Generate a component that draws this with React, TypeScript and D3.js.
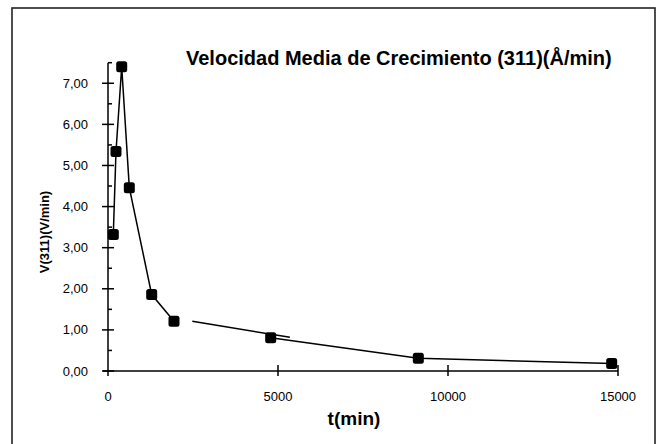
import React from "react";
import * as d3 from "d3";

const timeMin = [156, 235, 403, 627, 1285, 1941, 4785, 9127, 14814];
const velocity = [3.32, 5.34, 7.4, 4.46, 1.86, 1.21, 0.81, 0.31, 0.18];
const segmentA = [0, 1, 2, 3, 4, 5];
const segmentB = [6, 7, 8];
const trendT = [2480, 5350];
const trendV = [1.21, 0.82];
const xTicks = [0, 5000, 10000, 15000];
const yTicks = [0, 1, 2, 3, 4, 5, 6, 7];
const yMinorTicks = [0.5, 1.5, 2.5, 3.5, 4.5, 5.5, 6.5, 7.5];
const title = "Velocidad Media de Crecimiento (311)(Å/min)";
const xTitle = "t(min)";
const yTitle = "V(311)(V/min)";

const W = 659;
const H = 444;
const FONT = "Arial, 'Liberation Sans', Helvetica, sans-serif";

export default function App() {
  const x = d3.scaleLinear().domain([0, 15000]).range([108, 618]);
  const y = d3.scaleLinear().domain([0, 7.5]).range([371, 62.7]);
  const fmt = (v: number) => d3.format(".2f")(v).replace(".", ",");
  const line = d3
    .line<[number, number]>()
    .x((d) => x(d[0]))
    .y((d) => y(d[1]));
  const pts = (idx: number[]) => idx.map((i) => [timeMin[i], velocity[i]] as [number, number]);
  const trend = trendT.map((t, i) => [t, trendV[i]] as [number, number]);
  const x0 = x(0);
  const y0 = y(0);

  return (
    <svg
      width={W}
      height={H}
      style={{ position: "absolute", left: 0, top: 0, background: "#fff" }}
      fontFamily={FONT}
    >
      <rect x={0} y={0} width={W} height={H} fill="#fff" />
      <rect x={12} y={8} width={643} height={460} fill="none" stroke="#222" strokeWidth={1.6} />

      <text x={186} y={65} fontSize={20} fontWeight="bold" fill="#000">
        {title}
      </text>

      {/* axes */}
      <line x1={x0} x2={x0} y1={y(7.5)} y2={y0 + 5} stroke="#000" strokeWidth={1.5} />
      <line x1={x0 - 5} x2={x(15000)} y1={y0} y2={y0} stroke="#000" strokeWidth={1.5} />
      {yTicks.map((t) => (
        <g key={"yt" + t}>
          <line x1={x0 - 6} x2={x0 + 6} y1={y(t)} y2={y(t)} stroke="#000" strokeWidth={1.5} />
          <text x={88} y={y(t) + 4.5} fontSize={13} textAnchor="end" fill="#000">
            {fmt(t)}
          </text>
        </g>
      ))}
      {yMinorTicks.map((t) => (
        <line key={"ym" + t} x1={x0} x2={x0 + 4} y1={y(t)} y2={y(t)} stroke="#000" strokeWidth={1.5} />
      ))}
      {xTicks.map((t) => (
        <g key={"xt" + t}>
          {t !== 0 && (
            <line x1={x(t)} x2={x(t)} y1={y0 - 6} y2={y0 + 5} stroke="#000" strokeWidth={1.5} />
          )}
          <text x={x(t)} y={401} fontSize={13} textAnchor="middle" fill="#000">
            {t}
          </text>
        </g>
      ))}

      <text x={354} y={425} fontSize={19} fontWeight="bold" textAnchor="middle" fill="#000">
        {xTitle}
      </text>
      <text
        transform={`translate(49,232) rotate(-90)`}
        fontSize={13}
        fontWeight="bold"
        textAnchor="middle"
        fill="#000"
      >
        {yTitle}
      </text>

      {/* lines */}
      <path d={line(pts(segmentA)) || ""} fill="none" stroke="#000" strokeWidth={1.5} />
      <path d={line(pts(segmentB)) || ""} fill="none" stroke="#000" strokeWidth={1.5} />
      <path d={line(trend) || ""} fill="none" stroke="#000" strokeWidth={1.5} />

      {/* markers */}
      {timeMin.map((t, i) => (
        <rect
          key={"m" + i}
          x={x(t) - 5.5}
          y={y(velocity[i]) - 5.5}
          width={11}
          height={11}
          rx={2.5}
          fill="#000"
        />
      ))}
    </svg>
  );
}
